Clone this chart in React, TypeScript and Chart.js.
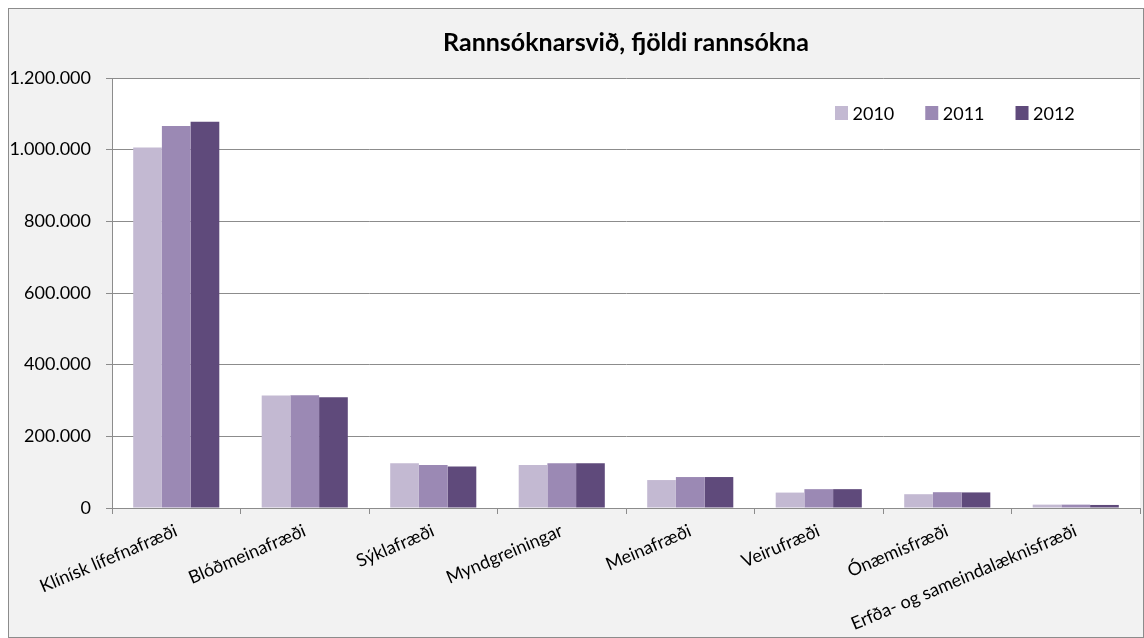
import React, { useEffect, useRef } from 'react';
import { Chart, registerables } from 'chart.js';

Chart.register(...registerables);

const title = 'Rannsóknarsvið, fjöldi rannsókna';
const categories = [
  'Klínísk lífefnafræði',
  'Blóðmeinafræði',
  'Sýklafræði',
  'Myndgreiningar',
  'Meinafræði',
  'Veirufræði',
  'Ónæmisfræði',
  'Erfða- og sameindalæknisfræði',
];
const seriesLabels = ['2010', '2011', '2012'];
const values2010 = [1006000, 314000, 125000, 120000, 78000, 43000, 38500, 9400];
const values2011 = [1066000, 315000, 120000, 125000, 86400, 52600, 44100, 9400];
const values2012 = [1078000, 309000, 116000, 125000, 86400, 52600, 43500, 8500];
const seriesColors = ['#c3b9d2', '#9b89b4', '#5f4a7b'];
const yMin = 0;
const yMax = 1200000;
const yStep = 200000;

const FONT = 'Lato, Calibri, Carlito, "Open Sans", sans-serif';

const fmt = (v: number) => String(Math.round(v)).replace(/\B(?=(\d{3})+(?!\d))/g, '.');

const backgroundPlugin = {
  id: 'bgPlugin',
  beforeDraw(chart: any) {
    const { ctx, chartArea, width, height } = chart;
    ctx.save();
    ctx.fillStyle = '#f2f2f2';
    ctx.fillRect(0, 0, width, height);
    ctx.fillStyle = '#ffffff';
    ctx.fillRect(chartArea.left, chartArea.top, chartArea.right - chartArea.left, chartArea.bottom - chartArea.top);
    ctx.restore();
  },
  afterDraw(chart: any) {
    const { ctx, chartArea, width, height } = chart;
    ctx.save();
    // legend inside plot area
    ctx.font = `18px ${FONT}`;
    ctx.textBaseline = 'middle';
    ctx.textAlign = 'left';
    let x = chartArea.left + 723;
    const cy = chartArea.top + 35;
    chart.data.datasets.forEach((ds: any) => {
      ctx.fillStyle = ds.backgroundColor;
      ctx.fillRect(x, cy - 7, 13, 14);
      ctx.fillStyle = '#000000';
      ctx.fillText(ds.label, x + 17.5, cy + 1);
      x += 17.5 + ctx.measureText(ds.label).width + 31;
    });
    // outer border
    ctx.strokeStyle = '#8c8c8c';
    ctx.lineWidth = 1;
    ctx.strokeRect(0.5, 0.5, width - 1, height - 1);
    ctx.restore();
  },
};

export default function App() {
  const ref = useRef<HTMLCanvasElement>(null);

  useEffect(() => {
    if (!ref.current) return;
    const chart = new Chart(ref.current, {
      type: 'bar',
      data: {
        labels: categories,
        datasets: [values2010, values2011, values2012].map((vals, i) => ({
          label: seriesLabels[i],
          data: vals,
          backgroundColor: seriesColors[i],
          borderWidth: 0,
          categoryPercentage: 0.67,
          barPercentage: 1.0,
        })),
      },
      options: {
        responsive: false,
        animation: false,
        events: [],
        layout: { padding: { left: 0, right: 4, top: 0, bottom: 0 } },
        plugins: {
          legend: { display: false },
          tooltip: { enabled: false },
          title: {
            display: true,
            text: title,
            fullSize: false,
            color: '#000000',
            font: { family: FONT, size: 25, weight: 'bold', lineHeight: 1.2 },
            padding: { top: 19.5, bottom: 20.5 },
          },
        },
        scales: {
          x: {
            grid: {
              offset: true,
              drawOnChartArea: false,
              drawTicks: true,
              tickLength: 6,
              color: '#8c8c8c',
            },
            border: { display: true, color: '#8c8c8c' },
            ticks: {
              autoSkip: false,
              minRotation: 23,
              maxRotation: 23,
              padding: 6,
              color: '#000000',
              font: { family: FONT, size: 18 },
            },
            afterFit: (s: any) => {
              s.height = 130;
              s.paddingLeft = 0;
              s.paddingRight = 0;
            },
          },
          y: {
            min: yMin,
            max: yMax,
            grid: {
              color: '#8c8c8c',
              tickLength: 6,
              drawTicks: true,
            },
            border: { display: true, color: '#8c8c8c' },
            ticks: {
              stepSize: yStep,
              padding: 15,
              color: '#000000',
              font: { family: FONT, size: 18 },
              callback: (v: any) => fmt(Number(v)),
            },
            afterFit: (s: any) => {
              s.width = 104;
            },
          },
        },
      },
      plugins: [backgroundPlugin],
    });
    return () => chart.destroy();
  }, []);

  return (
    <div style={{ position: 'fixed', left: 8, top: 8, width: 1136, height: 630 }}>
      <canvas ref={ref} width={1136} height={630} style={{ width: 1136, height: 630, display: 'block' }} />
    </div>
  );
}
